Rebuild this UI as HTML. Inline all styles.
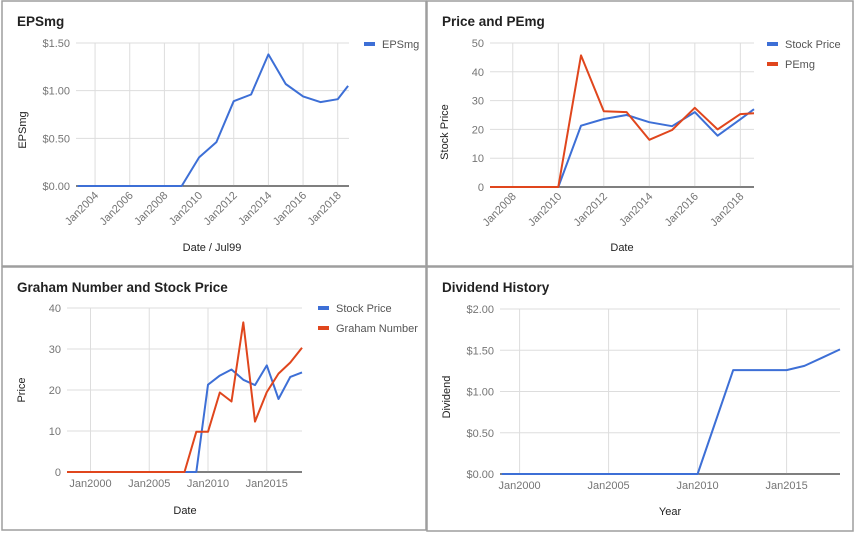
<!DOCTYPE html>
<html><head><meta charset="utf-8"><style>
body{margin:0;background:#fff;}
svg{display:block;font-family:"Liberation Sans",Arial,sans-serif;}
</style></head><body>
<svg id="c" width="855" height="534" viewBox="0 0 855 534">
<rect x="0" y="0" width="855" height="534" fill="#fff"/>
</svg>
<script>
// ---- data ----
const epsYears = [2003,2004,2005,2006,2007,2008,2009,2010,2011,2012,2013,2014,2015,2016,2017,2018,2018.6];
const epsValues = [0,0,0,0,0,0,0,0.30,0.46,0.89,0.96,1.38,1.07,0.94,0.88,0.91,1.05];
const epsTicksY = ["$0.00","$0.50","$1.00","$1.50"];
const epsTicksX = ["Jan2004","Jan2006","Jan2008","Jan2010","Jan2012","Jan2014","Jan2016","Jan2018"];

const peYears = [2007,2008,2009,2010,2011,2012,2013,2014,2015,2016,2017,2018,2018.6];
const peStock = [0,0,0,0,21.3,23.6,25,22.5,21.1,26,17.8,23.5,27];
const pePEmg = [0,0,0,0,45.7,26.3,26,16.4,19.8,27.5,20,25.3,25.6];
const peTicksY = ["0","10","20","30","40","50"];
const peTicksX = ["Jan2008","Jan2010","Jan2012","Jan2014","Jan2016","Jan2018"];

const grYears = [1998,1999,2000,2001,2002,2003,2004,2005,2006,2007,2008,2009,2010,2011,2012,2013,2014,2015,2016,2017,2018];
const grStock = [0,0,0,0,0,0,0,0,0,0,0,0,21.3,23.5,25,22.5,21.2,26,17.8,23.2,24.3];
const grGraham = [0,0,0,0,0,0,0,0,0,0,0,9.8,9.8,19.4,17.2,36.5,12.3,19.5,24,26.7,30.3];
const grTicksY = ["0","10","20","30","40"];
const grTicksX = ["Jan2000","Jan2005","Jan2010","Jan2015"];

const dvYears = [1999,2000,2001,2002,2003,2004,2005,2006,2007,2008,2009,2010,2011,2012,2013,2014,2015,2016,2017,2018];
const dvValues = [0,0,0,0,0,0,0,0,0,0,0,0,0.63,1.26,1.26,1.26,1.26,1.31,1.41,1.51];
const dvTicksY = ["$0.00","$0.50","$1.00","$1.50","$2.00"];
const dvTicksX = ["Jan2000","Jan2005","Jan2010","Jan2015"];

const NS="http://www.w3.org/2000/svg";
const svg=document.getElementById('c');
function el(tag,attrs,parent,text){const e=document.createElementNS(NS,tag);for(const k in attrs)e.setAttribute(k,attrs[k]);if(text!==undefined)e.textContent=text;(parent||svg).appendChild(e);return e;}
function tickNum(s){return parseFloat(s.replace(/[^0-9.]/g,''));}
function tickYear(s){return parseFloat(s.replace(/[^0-9]/g,''));}

function chart(cfg){
  const g=el('g',{});
  
  
  const p=el('rect',{x:cfg.box[0],y:cfg.box[1],width:cfg.box[2],height:cfg.box[3],fill:'#fff',stroke:'#9e9e9e','stroke-width':1.5},g);
  
  
  const t=el('text',{x:cfg.box[0]+15,y:cfg.box[1]+25,'font-size':13.5,'font-weight':'bold',fill:'#222'},g,cfg.title);
  
  
  const [L,R,T,B]=cfg.plot;
  const ymax=tickNum(cfg.ticksY[cfg.ticksY.length-1]);
  const sx=v=>L+(v-cfg.x0)/(cfg.x1-cfg.x0)*(R-L);
  const sy=v=>B-v/ymax*(B-T);
  cfg.ticksY.forEach(s=>{
    const v=tickNum(s),y=sy(v);
    const gl=el('line',{x1:L,x2:R,y1:y,y2:y,stroke:v===0?'#333':'#ddd','stroke-width':v===0?1.2:1},g);
    
    
    const tl=el('text',{x:L-6,y:y+4,'text-anchor':'end','font-size':11,fill:'#757575'},g,s);
    
    
  });
  cfg.ticksX.forEach(s=>{
    const x=sx(tickYear(s));
    const gl=el('line',{x1:x,x2:x,y1:T,y2:B-0.6,stroke:'#ddd','stroke-width':1},g);
    
    
    let tl;
    if(cfg.rot){tl=el('text',{x:x+4,y:B+10,'text-anchor':'end','font-size':11,fill:'#757575',transform:`rotate(-45 ${x+4} ${B+10})`},g,s);}
    else{tl=el('text',{x:x,y:B+15,'text-anchor':'middle','font-size':11,fill:'#757575'},g,s);}
    
    
  });
  // axis line redraw on top
  cfg.series.forEach((s,i)=>{
    const pts=cfg.xs.map((x,j)=>sx(x).toFixed(1)+','+sy(s.vals[j]).toFixed(1)).join(' ');
    const pl=el('polyline',{points:pts,fill:'none',stroke:s.color,'stroke-width':2,'stroke-linejoin':'round'},g);
    
    
    const ly=cfg.legend[1]+i*20;
    const lg=el('g',{},g);
    
    
    el('rect',{x:cfg.legend[0],y:ly-2,width:11,height:4,fill:s.color},lg);
    el('text',{x:cfg.legend[0]+18,y:ly+4,'font-size':11,fill:'#555'},lg,s.label);
  });
  const yt=el('text',{x:cfg.yTitle[0],y:cfg.yTitle[1],'text-anchor':'middle','font-size':11,fill:'#222',transform:`rotate(-90 ${cfg.yTitle[0]} ${cfg.yTitle[1]})`},g,cfg.yLabel);
  
  
  const xt=el('text',{x:cfg.xTitle[0],y:cfg.xTitle[1],'text-anchor':'middle','font-size':11,fill:'#222'},g,cfg.xLabel);
  
  
}

chart({name:'epsmg-chart',box:[2,1,424,265],title:'EPSmg',plot:[76,349,43,186],x0:2002.9,x1:2018.65,
  ticksY:epsTicksY,ticksX:epsTicksX,rot:true,xs:epsYears,
  series:[{key:'epsmg',label:'EPSmg',color:'#3d6fd6',vals:epsValues}],
  legend:[364,44],yLabel:'EPSmg',yTitle:[26,130],xLabel:'Date / Jul99',xTitle:[212,251]});

chart({name:'price-pemg-chart',box:[427,1,426,265],title:'Price and PEmg',plot:[490,754,43,187],x0:2007,x1:2018.6,
  ticksY:peTicksY,ticksX:peTicksX,rot:true,xs:peYears,
  series:[{key:'stock-price',label:'Stock Price',color:'#3d6fd6',vals:peStock},{key:'pemg',label:'PEmg',color:'#e0461d',vals:pePEmg}],
  legend:[767,44],yLabel:'Stock Price',yTitle:[448,132],xLabel:'Date',xTitle:[622,251]});

chart({name:'graham-chart',box:[2,267,424,263],title:'Graham Number and Stock Price',plot:[67,302,308,472],x0:1998,x1:2018,
  ticksY:grTicksY,ticksX:grTicksX,rot:false,xs:grYears,
  series:[{key:'stock-price',label:'Stock Price',color:'#3d6fd6',vals:grStock},{key:'graham-number',label:'Graham Number',color:'#e0461d',vals:grGraham}],
  legend:[318,308],yLabel:'Price',yTitle:[25,390],xLabel:'Date',xTitle:[185,514]});

chart({name:'dividend-chart',box:[427,267,426,264],title:'Dividend History',plot:[500,840,309,474],x0:1998.9,x1:2018,
  ticksY:dvTicksY,ticksX:dvTicksX,rot:false,xs:dvYears,
  series:[{key:'dividend',label:'',color:'#3d6fd6',vals:dvValues}],
  legend:[-100,-100],yLabel:'Dividend',yTitle:[450,397],xLabel:'Year',xTitle:[670,515]});
</script>
</body></html>
